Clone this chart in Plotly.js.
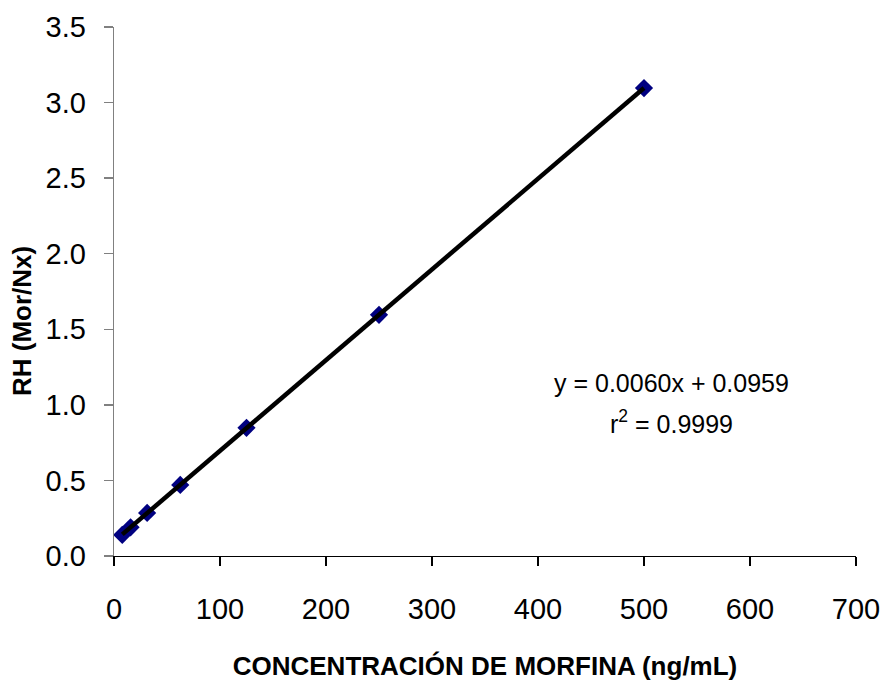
<!DOCTYPE html>
<html>
<head>
<meta charset="utf-8">
<script src="https://cdn.plot.ly/plotly-3.0.1.min.js"></script>
<style>html,body{margin:0;padding:0;background:#fff;}#chart{width:887px;height:685px;}</style>
</head>
<body>
<div id="chart"></div>
<script>
// Data
const concentration = [7.8125, 15.625, 31.25, 62.5, 125, 250, 500];
const rhValues = [0.14, 0.19, 0.285, 0.47, 0.848, 1.596, 3.096];
// Linear trend line end points (y = 0.0060x + 0.0959)
const trendX = [7.8125, 500];
const trendY = [0.143, 3.096];
const equationText = "y = 0.0060x + 0.0959";
const r2Text = "r<sup>2</sup> = 0.9999";
const xTitle = "CONCENTRACIÓN DE MORFINA (ng/mL)";
const yTitle = "RH (Mor/Nx)";
const xTickVals = [0, 100, 200, 300, 400, 500, 600, 700];
const yTickVals = [0, 0.5, 1, 1.5, 2, 2.5, 3, 3.5];

const font = "Arial, 'Liberation Sans', sans-serif";

const data = [
  {
    x: concentration, y: rhValues, type: "scatter", mode: "markers",
    marker: {symbol: "diamond", size: 14, color: "#000080", line: {width: 0}},
    showlegend: false, hoverinfo: "x+y"
  },
  {
    x: trendX, y: trendY, type: "scatter", mode: "lines",
    line: {color: "#000000", width: 4.5},
    showlegend: false, hoverinfo: "skip"
  }
];

const layout = {
  width: 887, height: 685,
  paper_bgcolor: "#ffffff", plot_bgcolor: "#ffffff",
  margin: {l: 114, r: 31, t: 27, b: 129},
  font: {family: font, color: "#000000"},
  xaxis: {
    range: [0, 700], tickvals: xTickVals, ticktext: xTickVals.map(String),
    showgrid: false, zeroline: false, showline: true, linecolor: "#000000", linewidth: 1.3,
    ticks: "outside", ticklen: 9, tickcolor: "#000000", tickwidth: 1.3,
    tickfont: {family: font, size: 29, color: "#000000"}, ticklabelstandoff: 18,
    title: {text: "<b>" + xTitle + "</b>", font: {family: font, size: 26, color: "#000000"}, standoff: 32}
  },
  yaxis: {
    range: [0, 3.5], tickvals: yTickVals, ticktext: yTickVals.map(v => v.toFixed(1)),
    showgrid: false, zeroline: false, showline: true, linecolor: "#808080", linewidth: 1.3,
    ticks: "outside", ticklen: 9, tickcolor: "#808080", tickwidth: 1.3,
    tickfont: {family: font, size: 29, color: "#000000"}, ticklabelstandoff: 12
  },
  annotations: [
    {xref: "paper", yref: "paper", x: (22 - 114) / 742, y: (556 - 321) / 529,
     text: "<b>" + yTitle + "</b>", textangle: -90, showarrow: false,
     xanchor: "center", yanchor: "middle",
     font: {family: font, size: 26, color: "#000000"}},
    {xref: "paper", yref: "paper", x: (671 - 114) / 742, y: (556 - 383) / 529,
     text: equationText, showarrow: false, xanchor: "center", yanchor: "middle",
     font: {family: font, size: 25, color: "#000000"}},
    {xref: "paper", yref: "paper", x: (671 - 114) / 742, y: (556 - 422) / 529,
     text: r2Text, showarrow: false, xanchor: "center", yanchor: "middle",
     font: {family: font, size: 25, color: "#000000"}}
  ]
};

Plotly.newPlot("chart", data, layout, {displayModeBar: false, staticPlot: true});
</script>
</body>
</html>
